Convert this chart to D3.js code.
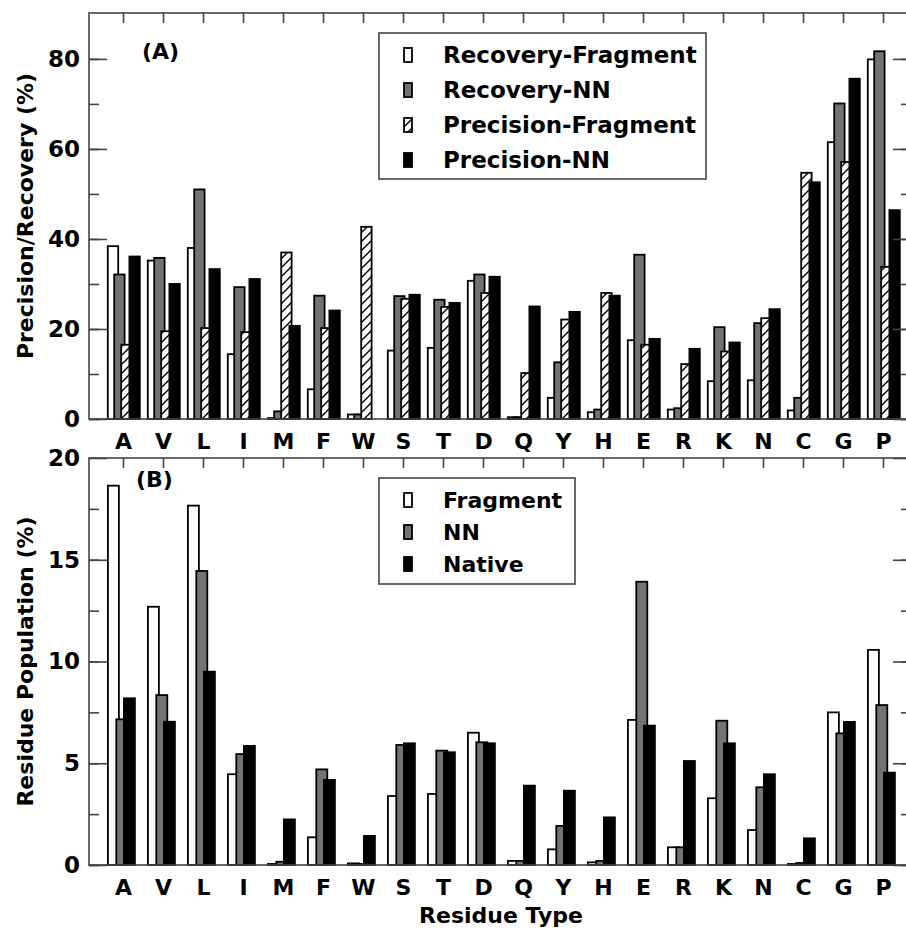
<!DOCTYPE html>
<html>
<head>
<meta charset="utf-8">
<script src="https://cdn.jsdelivr.net/npm/d3@7"></script>
<style>
  body { margin: 0; background: #fff; }
  svg { display: block; }
  svg text { font-family: 'DejaVu Sans', sans-serif; font-weight: bold; fill: #000; }
</style>
</head>
<body>
<div id="app"></div>
<script>
const residues = ['A', 'V', 'L', 'I', 'M', 'F', 'W', 'S', 'T', 'D', 'Q', 'Y', 'H', 'E', 'R', 'K', 'N', 'C', 'G', 'P']

// panel A: precision / recovery (%)
const recoveryFragment = [38.4, 35.2, 38.0, 14.4, 0.2, 6.6, 1.0, 15.2, 15.8, 30.7, 0.4, 4.7, 1.5, 17.5, 2.1, 8.4, 8.6, 1.9, 61.5, 79.9]
const recoveryNN = [32.1, 35.8, 51.0, 29.3, 1.7, 27.4, 1.0, 27.3, 26.5, 32.1, 0.4, 12.6, 2.1, 36.5, 2.4, 20.4, 21.3, 4.7, 70.1, 81.7]
const precisionFragment = [16.5, 19.5, 20.2, 19.3, 37.0, 20.2, 42.7, 26.7, 24.9, 28.0, 10.2, 22.1, 28.0, 16.5, 12.2, 15.0, 22.4, 54.7, 57.1, 33.8]
const precisionNN = [36.1, 30.0, 33.3, 31.1, 20.7, 24.1, 0, 27.6, 25.8, 31.6, 25.0, 23.8, 27.4, 17.8, 15.6, 17.0, 24.4, 52.6, 75.6, 46.4]

// panel B: residue population (%)
const popFragment = [18.64, 12.69, 17.66, 4.46, 0.05, 1.36, 0.08, 3.39, 3.49, 6.50, 0.2, 0.77, 0.13, 7.13, 0.87, 3.28, 1.72, 0.05, 7.50, 10.57]
const popNN = [7.16, 8.35, 14.45, 5.45, 0.16, 4.70, 0.05, 5.90, 5.62, 6.03, 0.2, 1.92, 0.2, 13.92, 0.87, 7.09, 3.82, 0.1, 6.47, 7.86]
const popNative = [8.19, 7.04, 9.50, 5.85, 2.24, 4.18, 1.43, 5.98, 5.54, 5.98, 3.90, 3.65, 2.34, 6.85, 5.11, 5.98, 4.46, 1.31, 7.03, 4.54]

const yTicksA = [0, 20, 40, 60, 80]
const yTicksB = [0, 5, 10, 15, 20]

const W = 906, H = 930
const left = 89, right = 911

const svg = d3.select('#app').append('svg').attr('width', W).attr('height', H)

const defs = svg.append('defs')
const pat = defs.append('pattern')
  .attr('id', 'hatch')
  .attr('patternUnits', 'userSpaceOnUse')
  .attr('width', 9).attr('height', 9)
pat.append('rect').attr('width', 9).attr('height', 9).attr('fill', '#fff')
pat.append('path')
  .attr('d', 'M-1,10 L10,-1 M-4,4 L4,-4 M5,13 L13,5')
  .attr('stroke', '#000').attr('stroke-width', 1.4)

const x = d3.scaleLinear().domain([-0.85, 19.7]).range([left, right])

const fills = { white: '#fff', gray: '#737373', hatch: 'url(#hatch)', black: '#000' }

function panel(cfg) {
  const g = svg.append('g')
  const y = d3.scaleLinear().domain(cfg.domain).range([cfg.bottom, cfg.top])

  // bars
  cfg.series.forEach(s => {
    g.append('g').selectAll('rect')
      .data(s.values)
      .join('rect')
      .attr('x', (d, i) => x(i + s.offset - cfg.barWidth / 2))
      .attr('y', d => y(d))
      .attr('width', x(cfg.barWidth) - x(0))
      .attr('height', d => cfg.bottom - y(d))
      .attr('fill', fills[s.fill])
      .attr('stroke', '#000')
      .attr('stroke-width', 1.8)
  })

  // frame
  g.append('rect')
    .attr('x', left).attr('y', cfg.top)
    .attr('width', right - left).attr('height', cfg.bottom - cfg.top)
    .attr('fill', 'none').attr('stroke', '#444').attr('stroke-width', 1.6)

  const styleAxis = sel => {
    sel.select('.domain').remove()
    sel.selectAll('line').attr('stroke', '#444').attr('stroke-width', 1.6)
  }

  // left axis: major + minor
  g.append('g').attr('transform', `translate(${left},0)`)
    .call(d3.axisLeft(y).tickValues(cfg.minor).tickSize(-10).tickFormat(''))
    .call(styleAxis)
  g.append('g').attr('transform', `translate(${left},0)`)
    .call(d3.axisLeft(y).tickValues(cfg.ticks).tickSize(-18).tickPadding(9))
    .call(styleAxis)
    .selectAll('text')
    .attr('font-size', 23).attr('font-family', null).attr('fill', null)

  // right axis
  g.append('g').attr('transform', `translate(${right},0)`)
    .call(d3.axisRight(y).tickValues(cfg.minor).tickSize(-10).tickFormat(''))
    .call(styleAxis)
  g.append('g').attr('transform', `translate(${right},0)`)
    .call(d3.axisRight(y).tickValues(cfg.ticks).tickSize(-18).tickFormat(''))
    .call(styleAxis)

  // top ticks
  g.append('g').attr('transform', `translate(0,${cfg.top})`)
    .call(d3.axisTop(x).tickValues(d3.range(residues.length)).tickSize(-10).tickFormat(''))
    .call(styleAxis)

  // bottom category labels
  g.append('g').attr('transform', `translate(0,${cfg.bottom})`)
    .call(d3.axisBottom(x).tickValues(d3.range(residues.length)).tickSize(0).tickPadding(14).tickFormat(i => residues[i]))
    .call(sel => sel.select('.domain').remove())
    .selectAll('text')
    .attr('font-size', 22).attr('font-family', null).attr('fill', null)

  // y label
  g.append('text')
    .attr('transform', `translate(33,${(cfg.top + cfg.bottom) / 2}) rotate(-90)`)
    .attr('text-anchor', 'middle')
    .attr('font-size', 22)
    .text(cfg.yLabel)

  // panel tag
  g.append('text')
    .attr('x', cfg.tagX).attr('y', cfg.tagY)
    .attr('font-size', 22)
    .text(cfg.tag)

  // legend
  const lg = g.append('g')
  lg.append('rect')
    .attr('x', cfg.legend.x).attr('y', cfg.legend.y)
    .attr('width', cfg.legend.w).attr('height', cfg.legend.h)
    .attr('fill', '#fff').attr('stroke', '#444').attr('stroke-width', 1.6)
  cfg.series.forEach((s, i) => {
    const cy = cfg.legend.y + cfg.legend.first + i * cfg.legend.step
    lg.append('rect')
      .attr('x', 404).attr('y', cy - 7)
      .attr('width', 8).attr('height', 14)
      .attr('fill', fills[s.fill]).attr('stroke', '#000').attr('stroke-width', 1.8)
    lg.append('text')
      .attr('x', 443).attr('y', cy + 8)
      .attr('font-size', cfg.legend.font)
      .text(s.name)
  })
}

panel({
  top: 13, bottom: 419, domain: [0, 90.2],
  ticks: yTicksA, minor: d3.range(0, 90, 10),
  yLabel: 'Precision/Recovery (%)', tag: '(A)', tagX: 142, tagY: 59,
  barWidth: 0.26,
  series: [
    { name: 'Recovery-Fragment', values: recoveryFragment, fill: 'white', offset: -0.25 },
    { name: 'Recovery-NN', values: recoveryNN, fill: 'gray', offset: -0.09 },
    { name: 'Precision-Fragment', values: precisionFragment, fill: 'hatch', offset: 0.085 },
    { name: 'Precision-NN', values: precisionNN, fill: 'black', offset: 0.29 },
  ],
  legend: { x: 379, y: 33, w: 327, h: 146, first: 22, step: 35, font: 23 },
})

panel({
  top: 458, bottom: 865, domain: [0, 20],
  ticks: yTicksB, minor: d3.range(0, 20, 2.5),
  yLabel: 'Residue Population (%)', tag: '(B)', tagX: 136, tagY: 487,
  barWidth: 0.275,
  series: [
    { name: 'Fragment', values: popFragment, fill: 'white', offset: -0.24 },
    { name: 'NN', values: popNN, fill: 'gray', offset: -0.03 },
    { name: 'Native', values: popNative, fill: 'black', offset: 0.16 },
  ],
  legend: { x: 379, y: 478, w: 196, h: 106, first: 22, step: 32, font: 22 },
})

// x axis title
svg.append('text')
  .attr('x', 501).attr('y', 923)
  .attr('text-anchor', 'middle')
  .attr('font-size', 22)
  .text('Residue Type')
</script>
</body>
</html>
